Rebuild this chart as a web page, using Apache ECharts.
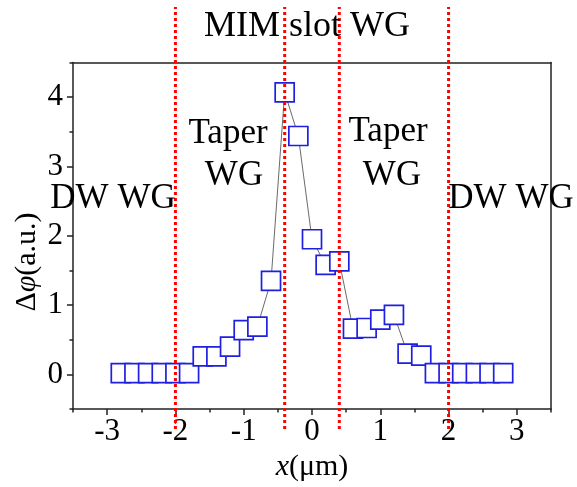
<!DOCTYPE html>
<html>
<head>
<meta charset="utf-8">
<script src="https://cdn.jsdelivr.net/npm/echarts@6/dist/echarts.min.js"></script>
<style>
html, body { margin: 0; padding: 0; background: #fff; }
#chart { width: 577px; height: 487px; }
</style>
</head>
<body>
<div id="chart"></div>
<script>
"use strict";
// x 位置 (μm)
var xVals = [-2.8, -2.6, -2.4, -2.2, -2.0, -1.8, -1.6, -1.4, -1.2, -1.0, -0.8, -0.6, -0.4, -0.2,
	0.0, 0.2, 0.4, 0.6, 0.8, 1.0, 1.2, 1.4, 1.6, 1.8, 2.0, 2.2, 2.4, 2.6, 2.8];
// Δφ (a.u.)
var phiVals = [0.02, 0.02, 0.02, 0.02, 0.02, 0.02, 0.26, 0.26, 0.40, 0.64, 0.69, 1.35, 4.07, 3.44,
	1.95, 1.58, 1.63, 0.66, 0.67, 0.79, 0.86, 0.30, 0.27, 0.02, 0.02, 0.02, 0.02, 0.02, 0.02];
// 区域分界 (红色虚线)
var boundaries = [-2, -0.4, 0.4, 2];
// 刻度
var xTicks = [-3, -2, -1, 0, 1, 2, 3];
var xMinorTicks = [-3.5, -2.5, -1.5, -0.5, 0.5, 1.5, 2.5, 3.5];
var yTicks = [0, 1, 2, 3, 4];
var yMinorTicks = [-0.5, 0.5, 1.5, 2.5, 3.5, 4.5];

var FONT = "Liberation Serif";
var AXIS = "#222";

var points = [];
for (var i = 0; i < xVals.length; i++) {
	points.push([xVals[i], phiVals[i]]);
}

// 每条分界线一个系列，画在更高的第二个 grid 上
var boundarySeries = boundaries.map(function (b) {
	return {
		type: "line",
		xAxisIndex: 3,
		yAxisIndex: 3,
		data: [[b, 0], [b, 1]],
		symbol: "none",
		silent: true,
		z: 10,
		lineStyle: { color: "#ff0000", width: 3, type: [3, 3] }
	};
});

function txt(s, x, y, size) {
	return {
		type: "text", z: 20,
		style: {
			text: s, x: x, y: y,
			font: (size || 35) + "px " + FONT,
			fill: "#000", align: "center", verticalAlign: "middle"
		}
	};
}

var myChart = echarts.init(document.getElementById("chart"), null, { renderer: "canvas" });
var option = {
	animation: false,
	backgroundColor: "#fff",
	grid: [
		{ left: 73, right: 26, top: 62.5, bottom: 68 },
		{ left: 73, right: 26, top: 7, bottom: 58 }
	],
	xAxis: [
		{
			type: "value", gridIndex: 0, min: -3.5, max: 3.5,
			axisLine: { show: true, onZero: false, lineStyle: { color: AXIS, width: 1.5 } },
			axisTick: { show: true, customValues: xTicks, length: 6, lineStyle: { color: AXIS, width: 1.5 } },
			axisLabel: { customValues: xTicks, fontFamily: FONT, fontSize: 31, color: "#000", margin: 7 },
			splitLine: { show: false },
			name: "{i|x}(μm)",
			nameLocation: "middle",
			nameGap: 36,
			nameTextStyle: {
				fontFamily: FONT, fontSize: 30, color: "#000",
				rich: { i: { fontFamily: FONT, fontSize: 30, fontStyle: "italic", color: "#000" } }
			}
		},
		{
			type: "value", gridIndex: 0, min: -3.5, max: 3.5, position: "bottom",
			axisLine: { show: false, onZero: false },
			axisTick: { show: true, customValues: xMinorTicks, length: 3.5, lineStyle: { color: AXIS, width: 1.5 } },
			axisLabel: { show: false },
			splitLine: { show: false }
		},
		{
			type: "value", gridIndex: 0, min: -3.5, max: 3.5, position: "top",
			axisLine: { show: true, onZero: false, lineStyle: { color: AXIS, width: 1.5 } },
			axisTick: { show: false }, axisLabel: { show: false }, splitLine: { show: false }
		},
		{ type: "value", gridIndex: 1, min: -3.5, max: 3.5, show: false }
	],
	yAxis: [
		{
			type: "value", gridIndex: 0, min: -0.5, max: 4.5,
			axisLine: { show: true, onZero: false, lineStyle: { color: AXIS, width: 1.5 } },
			axisTick: { show: true, customValues: yTicks, length: 6, lineStyle: { color: AXIS, width: 1.5 } },
			axisLabel: { customValues: yTicks, fontFamily: FONT, fontSize: 31, color: "#000", margin: 10 },
			splitLine: { show: false }
		},
		{
			type: "value", gridIndex: 0, min: -0.5, max: 4.5, position: "left",
			axisLine: { show: false, onZero: false },
			axisTick: { show: true, customValues: yMinorTicks, length: 3.5, lineStyle: { color: AXIS, width: 1.5 } },
			axisLabel: { show: false },
			splitLine: { show: false }
		},
		{
			type: "value", gridIndex: 0, min: -0.5, max: 4.5, position: "right",
			axisLine: { show: true, onZero: false, lineStyle: { color: AXIS, width: 1.5 } },
			axisTick: { show: false }, axisLabel: { show: false }, splitLine: { show: false }
		},
		{ type: "value", gridIndex: 1, min: 0, max: 1, show: false }
	],
	series: [
		{
			type: "line",
			xAxisIndex: 0,
			yAxisIndex: 0,
			data: points,
			symbol: "rect",
			symbolSize: 19,
			showAllSymbol: true,
			silent: true,
			lineStyle: { color: "#444", width: 0.8 },
			itemStyle: { color: "#fff", borderColor: "#1f1fe0", borderWidth: 1.7 }
		}
	].concat(boundarySeries),
	graphic: [
		txt("MIM slot WG", 307, 27, 36),
		txt("Taper", 228, 134),
		txt("WG", 234, 176),
		txt("Taper", 388, 132),
		txt("WG", 392, 176),
		txt("DW WG", 113, 199),
		txt("DW WG", 511, 199),
		{
			type: "text", z: 20, x: 27, y: 262, rotation: Math.PI / 2,
			style: {
				text: "Δ{i|φ}(a.u.)",
				font: "30px " + FONT,
				fill: "#000",
				align: "center",
				verticalAlign: "middle",
				rich: { i: { fontFamily: FONT, fontSize: 30, fontStyle: "italic", fill: "#000" } }
			}
		}
	]
};
myChart.setOption(option);
</script>
</body>
</html>
